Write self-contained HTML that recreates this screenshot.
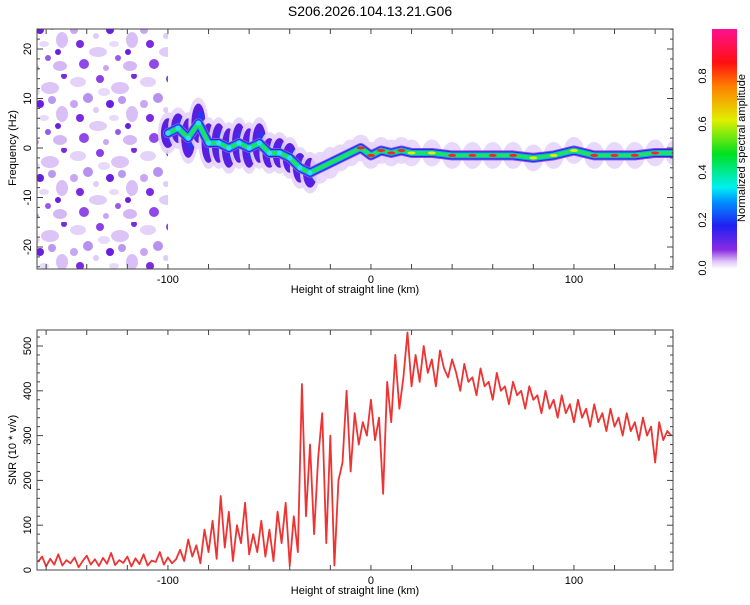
<!DOCTYPE html>
<html><head><meta charset="utf-8"><style>
body{margin:0;background:#fff;font-family:"Liberation Sans",sans-serif}
svg text{font-family:"Liberation Sans",sans-serif;font-size:11px;fill:#000}
</style></head><body>
<svg id="c" width="750" height="600" viewBox="0 0 750 600">
<defs>
<linearGradient id="cb" x1="0" y1="1" x2="0" y2="0">
<stop offset="0" stop-color="#fff"/><stop offset="0.03" stop-color="#e0c8f8"/>
<stop offset="0.08" stop-color="#8a2be2"/><stop offset="0.18" stop-color="#2020f0"/>
<stop offset="0.28" stop-color="#0090ff"/><stop offset="0.34" stop-color="#00f0f0"/>
<stop offset="0.48" stop-color="#00e020"/><stop offset="0.62" stop-color="#e0f000"/>
<stop offset="0.76" stop-color="#ff8000"/><stop offset="0.86" stop-color="#ff1010"/>
<stop offset="1" stop-color="#ff1090"/></linearGradient>
<pattern id="dots" width="70" height="74" patternUnits="userSpaceOnUse">
<ellipse cx="8" cy="8" rx="8" ry="5" fill="#e4d2f8"/><circle cx="30" cy="5" r="4" fill="#8a40e6"/>
<ellipse cx="50" cy="14" rx="9" ry="6" fill="#dcc4f6"/><circle cx="18" cy="24" r="5" fill="#b890f0"/>
<circle cx="40" cy="30" r="4" fill="#6a1ee0"/><ellipse cx="62" cy="40" rx="6" ry="8" fill="#d8c0f6"/>
<circle cx="10" cy="44" r="4" fill="#7a2ae0"/><ellipse cx="28" cy="52" rx="9" ry="5" fill="#e0ccf8"/>
<circle cx="48" cy="58" r="3" fill="#9a58ea"/><circle cx="4" cy="30" r="4" fill="#c8a6f2"/>
<ellipse cx="34" cy="18" rx="6" ry="4" fill="#e8dafa"/><circle cx="64" cy="2" r="3" fill="#7a2ae0"/>
<circle cx="52" cy="26" r="4" fill="#b898f0"/>
<circle cx="14" cy="64" r="5" fill="#9048e8"/><ellipse cx="60" cy="66" rx="7" ry="5" fill="#d4b8f4"/>
<circle cx="26" cy="36" r="3" fill="#e0ccf8"/><circle cx="58" cy="52" r="3" fill="#6a1ee0"/>
<ellipse cx="44" cy="44" rx="5" ry="3" fill="#e8dafa"/><circle cx="36" cy="68" r="3" fill="#c8a6f2"/>
</pattern>
<clipPath id="clipTop"><rect x="37" y="29" width="636" height="240"/></clipPath>
<clipPath id="clipBot"><rect x="37" y="330" width="636" height="240"/></clipPath>
</defs>
<text x="370" y="16" text-anchor="middle" style="font-size:14px">S206.2026.104.13.21.G06</text>
<g id="topG" clip-path="url(#clipTop)">
<rect x="37" y="29" width="131" height="240" fill="url(#dots)"/>
</g>
<g id="botG" clip-path="url(#clipBot)"></g>
<g id="axesG"></g>
<rect x="712" y="29" width="25" height="240" fill="url(#cb)"/>
<text transform="translate(745,148) rotate(-90)" text-anchor="middle">Normalized spectral amplitude</text>
</svg>
<script>
const snrStart=-164, snrStep=2;
const snrValues=[18,30,8,25,12,35,10,22,15,28,6,20,32,12,24,9,27,14,38,11,22,16,30,8,26,13,35,10,21,18,40,12,28,15,24,
45,20,68,30,55,
15,90,40,110,25,165,50,130,20,100,60,150,35,
80,40,110,30,90,20,130,
60,150,10,120,40,
415,120,280,80,250,
350,60,300,10,200,
240,400,220,350,280,
330,300,380,290,340,
170,420,330,480,360,
430,530,410,
480,420,500,440,470,410,490,450,430,470,
440,400,460,420,430,390,450,410,420,380,440,400,410,370,420,390,400,360,410,380,
390,350,400,360,380,340,390,350,370,330,380,340,360,320,370,330,350,310,360,320,340,300,350,310,330,290,340,300,320,240,330,290,310,300];
const bandHeights=[-100,-95,-90,-85,-80,-75,-70,-65,-60,-55,-50,-45,-40,-35,-30,-25,-20,-15,-10,-5,0,5,10,15,20,30,40,50,60,70,80,90,100,110,120,130,140,150];
const bandFreq=[3,4,2,5,1,1,0,1,0,1,-1,-1,-2,-4,-5,-4,-3,-2,-1,0,-1.5,-0.5,-1,-0.5,-1,-1,-1.5,-1.5,-1.5,-1.5,-2,-1.5,-0.5,-1.5,-1.5,-1.5,-1,-1];
const bandSpread=[3,3,4,4,4,4,4,4,4,4,3,3,3,3,3,2,2,1.5,1.5,1.5,1.5,1.5,1.5,1.5,1.5,1.5,1.5,1.5,1.5,1.5,1.5,1.5,1.5,1.5,1.5,1.5,1.5,1.5];
const xTicks=[-100,0,100], fTicks=[-20,-10,0,10,20], snrTicks=[0,100,200,300,400,500], cbTicks=[0,0.2,0.4,0.6,0.8];
const NS='http://www.w3.org/2000/svg';
const xs=v=>37+(v+164.5)*2.03, ys=f=>148-f*4.95, yb=v=>570-v*0.448, yc=v=>268-v*240;
function mk(tag,attrs,parent){const e=document.createElementNS(NS,tag);for(const k in attrs)e.setAttribute(k,attrs[k]);parent.appendChild(e);return e;}
const topG=document.getElementById('topG'), botG=document.getElementById('botG'), axesG=document.getElementById('axesG');
// haze blobs
bandHeights.forEach((h,i)=>{const ry=bandSpread[i]*4.95;
const a=mk('ellipse',{cx:xs(h),cy:ys(bandFreq[i]),rx:10,ry:ry+6,fill:'#e6d4fa',opacity:0.9},topG);


if(h<-25){const b=mk('ellipse',{cx:xs(h),cy:ys(bandFreq[i]),rx:7,ry:ry,fill:'#5a1ee0'},topG);


const c=mk('ellipse',{cx:xs(h)+2,cy:ys(bandFreq[i]),rx:4,ry:ry*0.6,fill:'#2838f0'},topG);

}});
const pts=bandHeights.map((h,i)=>xs(h)+','+ys(bandFreq[i])).join(' ');
const layers=[[10,'#8a50e8'],[8,'#3020e8'],[6,'#00a8f8'],[4,'#20e060']];
layers.forEach(l=>{const p=mk('polyline',{points:pts,fill:'none',stroke:l[1],'stroke-width':l[0],'stroke-linejoin':'round','stroke-linecap':'round'},topG);

});
bandHeights.forEach((h,i)=>{if(h<=-30){const c=mk('circle',{cx:xs(h),cy:ys(bandFreq[i]),r:2.5,fill:'#30e0f0'},topG);

}
else if(h>=-5){const c=mk('ellipse',{cx:xs(h),cy:ys(bandFreq[i]),rx:4,ry:1.5,fill:(h>=40&&h<=70)||h>=110||(h>=-5&&h<=15)?'#ff2020':'#e0f000'},topG);

}});
const sp=snrValues.map((v,i)=>xs(snrStart+i*snrStep)+','+yb(v)).join(' ');
const line=mk('polyline',{points:sp,fill:'none',stroke:'#ee3333','stroke-width':1.8,'stroke-linejoin':'round'},botG);


[[29,269],[330,570]].forEach(([t,b],k)=>{
const r=mk('rect',{x:37,y:t,width:636,height:b-t,fill:'none',stroke:'#444','stroke-width':1},axesG);


for(let v=-160;v<=140;v+=20){const x=xs(v);mk('line',{x1:x,x2:x,y1:b,y2:b-5,stroke:'#444'},axesG);mk('line',{x1:x,x2:x,y1:t,y2:t+5,stroke:'#444'},axesG);}
xTicks.forEach(v=>{const tx=mk('text',{x:xs(v),y:b+14,'text-anchor':'middle'},axesG);tx.textContent=v;

});
const xt=mk('text',{x:355,y:b+24,'text-anchor':'middle'},axesG);xt.textContent='Height of straight line (km)';


});
for(let f=-24;f<=24;f+=2){const y=ys(f);mk('line',{x1:37,x2:f%10==0?43:40,y1:y,y2:y,stroke:'#444'},axesG);mk('line',{x1:673,x2:f%10==0?667:670,y1:y,y2:y,stroke:'#444'},axesG);}
fTicks.forEach(f=>{const tx=mk('text',{transform:`translate(31,${ys(f)}) rotate(-90)`,'text-anchor':'middle'},axesG);tx.textContent=f;

});
for(let v=0;v<=520;v+=20){const y=yb(v);mk('line',{x1:37,x2:v%100==0?43:40,y1:y,y2:y,stroke:'#444'},axesG);mk('line',{x1:673,x2:v%100==0?667:670,y1:y,y2:y,stroke:'#444'},axesG);}
snrTicks.forEach(v=>{const tx=mk('text',{transform:`translate(31,${yb(v)}) rotate(-90)`,'text-anchor':'middle'},axesG);tx.textContent=v;

});
cbTicks.forEach(v=>{const tx=mk('text',{transform:`translate(706,${yc(v)}) rotate(-90)`,'text-anchor':'middle'},axesG);tx.textContent=v.toFixed(1);

});
const yt1=mk('text',{transform:'translate(16,148) rotate(-90)','text-anchor':'middle'},axesG);yt1.textContent='Frequency (Hz)';


const yt2=mk('text',{transform:'translate(16,450) rotate(-90)','text-anchor':'middle'},axesG);yt2.textContent='SNR (10 * v/v)';


</script>
</body></html>
